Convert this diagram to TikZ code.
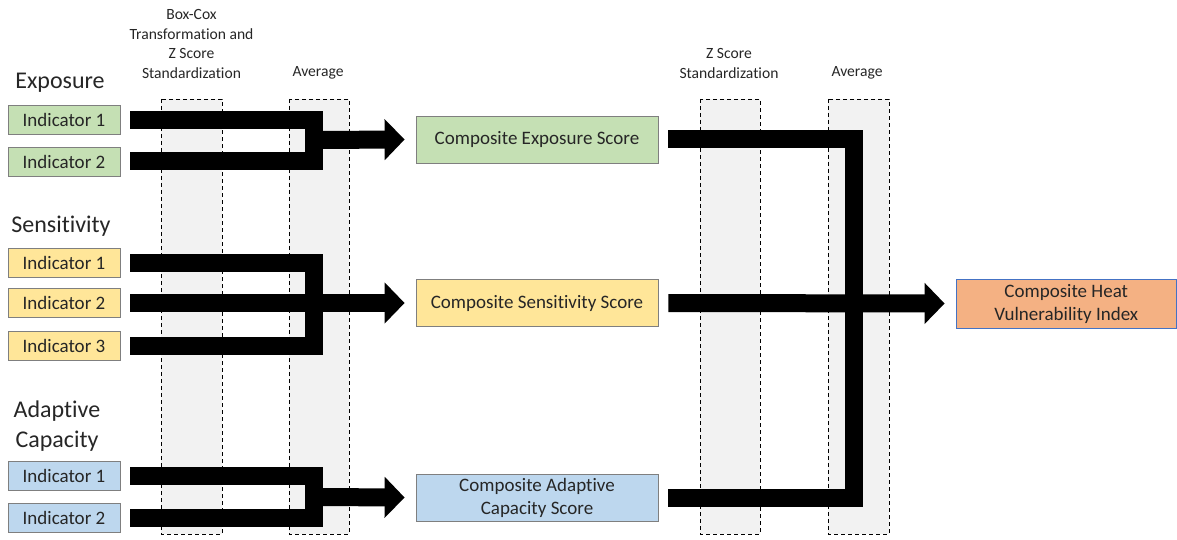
\documentclass[tikz,border=0pt]{standalone}
\usepackage{fontspec}
\setmainfont{Carlito}[Ligatures=NoCommon]
\usetikzlibrary{arrows.meta}

\definecolor{expfill}{HTML}{C5E0B4}
\definecolor{senfill}{HTML}{FFE699}
\definecolor{adafill}{HTML}{BDD7EE}
\definecolor{hvifill}{HTML}{F4B183}
\definecolor{hviline}{HTML}{4472C4}
\definecolor{colfill}{HTML}{F2F2F2}
\definecolor{boxline}{HTML}{7F7F7F}
\definecolor{ink}{HTML}{262626}

\tikzset{
  every node/.style={text=ink},
  stage/.style={draw=black, fill=colfill, line width=0.7pt, dash pattern=on 4pt off 3pt},
  head/.style={font=\fontsize{15.6}{19.5}\selectfont, align=center},
  group/.style={font=\fontsize{24}{30}\selectfont, align=center},
  ind/.style={draw=boxline, line width=0.8pt, minimum width=112pt, minimum height=29pt,
    inner sep=0pt, font=\fontsize{19}{23}\selectfont},
  comp/.style={draw=boxline, line width=0.8pt, minimum width=242pt, minimum height=47pt,
    inner sep=0pt, align=center, font=\fontsize{19}{23}\selectfont},
  bar/.style={line width=18pt, line join=miter, line cap=butt},
  fat/.style={bar, -{Triangle[length=20pt, width=40pt]}},
}

\begin{document}
\begin{tikzpicture}[x=1pt, y=-1pt]
\useasboundingbox (0,0) rectangle (1177,540);

% processing stage columns
\draw[stage] (161,99) rectangle (222,534);
\draw[stage] (289,99) rectangle (349,534);
\draw[stage] (700,99) rectangle (760,534);
\draw[stage] (828,99) rectangle (889,534);

% column headings
\node[head] (h1) at (191.5,44) {Box-Cox\\Transformation and\\Z Score\\Standardization};
\node[head] (h2) at (318,73) {Average};
\node[head] (h3) at (729,63.5) {Z Score\\Standardization};
\node[head] (h4) at (857,73) {Average};

% domain headings
\node[group] (gE) at (60,83) {Exposure};
\node[group] (gS) at (61,226) {Sensitivity};
\node[group] (gA) at (57,426) {Adaptive\\Capacity};

% indicators
\node[ind, fill=expfill] (e1) at (64,120) {Indicator 1};
\node[ind, fill=expfill] (e2) at (64,161.5) {Indicator 2};
\node[ind, fill=senfill] (s1) at (64,263) {Indicator 1};
\node[ind, fill=senfill] (s2) at (64,303) {Indicator 2};
\node[ind, fill=senfill] (s3) at (64,345.5) {Indicator 3};
\node[ind, fill=adafill] (a1) at (64,475.5) {Indicator 1};
\node[ind, fill=adafill] (a2) at (64,518) {Indicator 2};

% composite scores
\node[comp, fill=expfill] (ce) at (537,139.5) {Composite Exposure Score};
\node[comp, fill=senfill] (cs) at (537,303) {Composite Sensitivity Score};
\node[comp, fill=adafill] (ca) at (537,497.5) {Composite Adaptive\\Capacity Score};

% final index
\node[comp, fill=hvifill, draw=hviline, minimum width=220.5pt, minimum height=49pt]
  (hv) at (1066.25,303.5) {Composite Heat\\Vulnerability Index};

% junction points of the averaging brackets
\coordinate (ej) at (314,140);
\coordinate (sj) at (314,303);
\coordinate (aj) at (314,497);
\coordinate (rj) at (853.5,303);

% exposure
\draw[bar] ([xshift=10pt]e1.east) -| (ej) |- ([xshift=10pt]e2.east);
\draw[fat] (ej) -- ([xshift=-11pt]ce.west);

% sensitivity
\draw[bar] ([xshift=10pt]s1.east) -| (sj) |- ([xshift=10pt]s3.east);
\draw[fat] ([xshift=10pt]s2.east) -- ([xshift=-11pt]cs.west);

% adaptive capacity
\draw[bar] ([xshift=10pt]a1.east) -| (aj) |- ([xshift=10pt]a2.east);
\draw[fat] (aj) -- ([xshift=-11pt]ca.west);

% composites into the index
\draw[bar] ([xshift=10pt]ce.east) -| (rj) |- ([xshift=10pt]ca.east);
\draw[fat] ([xshift=10pt]cs.east) -- ([xshift=-11pt]hv.west);
\end{tikzpicture}
\end{document}
